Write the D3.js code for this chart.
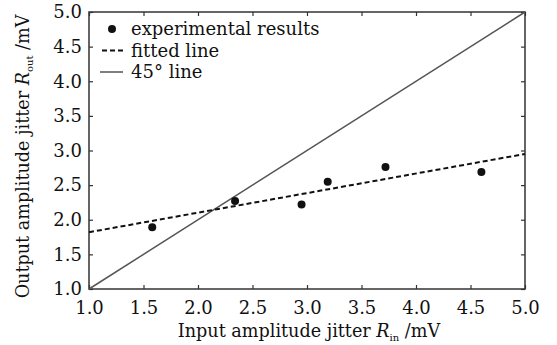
<!DOCTYPE html>
<html>
<head>
<meta charset="utf-8">
<script src="https://cdnjs.cloudflare.com/ajax/libs/d3/7.8.5/d3.min.js"></script>
<style>
  body { margin: 0; background: #fff; }
  svg text { font-family: "DejaVu Serif", serif; fill: #111; }
</style>
</head>
<body>
<div id="chart"></div>
<script>
// data
const expX = [1.58, 2.34, 2.95, 3.19, 3.72, 4.60];
const expY = [1.89, 2.27, 2.22, 2.55, 2.76, 2.69];
const fitX = [1.0, 5.0];
const fitY = [1.82, 2.95];
const diagX = [1.0, 5.0];
const diagY = [1.0, 5.0];
const xTicks = [1.0, 1.5, 2.0, 2.5, 3.0, 3.5, 4.0, 4.5, 5.0];
const yTicks = [1.0, 1.5, 2.0, 2.5, 3.0, 3.5, 4.0, 4.5, 5.0];

const W = 557, H = 345;
const margin = { left: 89, right: 32, top: 12, bottom: 56 };
const width = W - margin.left - margin.right;
const height = H - margin.top - margin.bottom;

const svg = d3.select("#chart").append("svg")
  .attr("width", W).attr("height", H);

const chart = svg.append("g")
  .attr("transform", `translate(${margin.left}, ${margin.top})`);

const xScale = d3.scaleLinear().domain([1, 5]).range([0, width]);
const yScale = d3.scaleLinear().domain([1, 5]).range([height, 0]);

const fmt = d3.format(".1f");
const tickLen = 4;

// axes, ticks inward on all four sides
const styleAxis = (g) => {
  g.select(".domain").remove();
  g.selectAll(".tick line").attr("stroke", "#333").attr("stroke-width", 1.2);
  g.selectAll(".tick text").attr("font-size", 18).attr("fill", "#111")
    .attr("font-family", "DejaVu Serif, serif");
};

chart.append("g")
  .attr("transform", `translate(0, ${height})`)
  .call(d3.axisBottom(xScale).tickValues(xTicks).tickFormat(fmt)
    .tickSizeInner(-tickLen).tickSizeOuter(0).tickPadding(12))
  .call(styleAxis);

chart.append("g")
  .call(d3.axisTop(xScale).tickValues(xTicks).tickFormat("")
    .tickSizeInner(-tickLen).tickSizeOuter(0))
  .call(styleAxis);

chart.append("g")
  .call(d3.axisLeft(yScale).tickValues(yTicks).tickFormat(fmt)
    .tickSizeInner(-tickLen).tickSizeOuter(0).tickPadding(7))
  .call(styleAxis);

chart.append("g")
  .attr("transform", `translate(${width}, 0)`)
  .call(d3.axisRight(yScale).tickValues(yTicks).tickFormat("")
    .tickSizeInner(-tickLen).tickSizeOuter(0))
  .call(styleAxis);

// frame
chart.append("rect")
  .attr("x", 0).attr("y", 0)
  .attr("width", width).attr("height", height)
  .attr("fill", "none")
  .attr("stroke", "#333")
  .attr("stroke-width", 1.5);

const line = d3.line().x((d) => xScale(d[0])).y((d) => yScale(d[1]));

// 45 degree line
chart.append("path")
  .datum(diagX.map((x, i) => [x, diagY[i]]))
  .attr("d", line)
  .attr("fill", "none")
  .attr("stroke", "#555")
  .attr("stroke-width", 1.5);

// fitted line
chart.append("path")
  .datum(fitX.map((x, i) => [x, fitY[i]]))
  .attr("d", line)
  .attr("fill", "none")
  .attr("stroke", "#111")
  .attr("stroke-width", 2)
  .attr("stroke-dasharray", "5,3");

// experimental points
chart.selectAll(".pt")
  .data(expX.map((x, i) => [x, expY[i]]))
  .enter().append("circle")
  .attr("class", "pt")
  .attr("cx", (d) => xScale(d[0]))
  .attr("cy", (d) => yScale(d[1]))
  .attr("r", 4)
  .attr("fill", "#111");

// legend
const legend = chart.append("g");
const legItems = ["experimental results", "fitted line", "45° line"];
legItems.forEach((label, i) => {
  const y = 17 + i * 21.5;
  if (i === 0) {
    legend.append("circle").attr("cx", 23).attr("cy", y).attr("r", 4).attr("fill", "#111");
  } else if (i === 1) {
    legend.append("line").attr("x1", 13).attr("x2", 34).attr("y1", y).attr("y2", y)
      .attr("stroke", "#111").attr("stroke-width", 2).attr("stroke-dasharray", "5,3");
  } else {
    legend.append("line").attr("x1", 11).attr("x2", 34).attr("y1", y).attr("y2", y)
      .attr("stroke", "#555").attr("stroke-width", 1.5);
  }
  legend.append("text")
    .attr("x", 42).attr("y", y + 6)
    .attr("font-size", 18)
    .text(label);
});

// axis labels
const xl = svg.append("text")
  .attr("x", 309).attr("y", 337)
  .attr("text-anchor", "middle")
  .attr("font-size", 17.6);
xl.append("tspan").text("Input amplitude jitter ");
xl.append("tspan").attr("font-style", "italic").text("R");
xl.append("tspan").attr("font-size", 10).attr("dy", 4).text("in");
xl.append("tspan").attr("dy", -4).text(" /mV");

const yl = svg.append("text")
  .attr("transform", `translate(29, ${margin.top + height / 2 + 6}) rotate(-90)`)
  .attr("text-anchor", "middle")
  .attr("font-size", 17.6);
yl.append("tspan").text("Output amplitude jitter ");
yl.append("tspan").attr("font-style", "italic").text("R");
yl.append("tspan").attr("font-size", 10).attr("dy", 4).text("out");
yl.append("tspan").attr("dy", -4).text(" /mV");
</script>
</body>
</html>
